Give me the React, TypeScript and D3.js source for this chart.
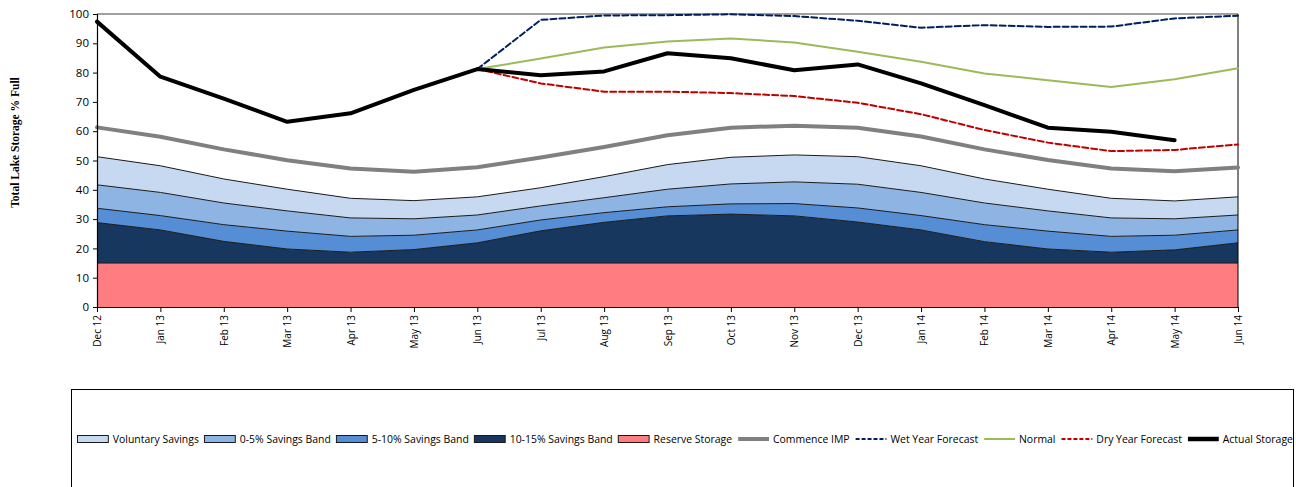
import React, { useEffect, useRef } from "react";
import * as d3 from "d3";

const months = ["Dec 12","Jan 13","Feb 13","Mar 13","Apr 13","May 13","Jun 13","Jul 13","Aug 13","Sep 13","Oct 13","Nov 13","Dec 13","Jan 14","Feb 14","Mar 14","Apr 14","May 14","Jun 14"];

// Upper levels (% full) of each storage band
const reserveLevel = [15,15,15,15,15,15,15,15,15,15,15,15,15,15,15,15,15,15,15];
const band10to15Level = [28.8,26.3,22.4,19.8,18.7,19.6,21.9,26.0,28.9,31.1,31.7,31.1,29.0,26.3,22.3,19.8,18.7,19.5,21.9];
const band5to10Level = [33.7,31.2,28.1,25.9,24.1,24.5,26.3,29.7,32.2,34.2,35.2,35.3,33.8,31.2,28.1,25.9,24.1,24.5,26.3];
const band0to5Level = [41.7,39.1,35.5,32.8,30.4,30.1,31.4,34.5,37.3,40.2,42.0,42.7,41.9,39.1,35.5,32.8,30.4,30.1,31.4];
const voluntaryLevel = [51.3,48.2,43.7,40.2,37.1,36.3,37.6,40.7,44.5,48.6,51.1,51.9,51.3,48.2,43.7,40.2,37.1,36.2,37.6];
const commenceIMP = [61.3,58.1,53.8,50.1,47.3,46.2,47.7,51.0,54.6,58.6,61.2,61.9,61.2,58.2,53.8,50.2,47.3,46.3,47.6];

const wetYear: (number | null)[] = [null,null,null,null,null,null,81.2,98.0,99.5,99.6,99.9,99.3,97.7,95.3,96.2,95.6,95.7,98.5,99.4];
const normalYear: (number | null)[] = [null,null,null,null,null,null,81.2,84.8,88.6,90.6,91.6,90.3,87.1,83.7,79.7,77.4,75.1,77.7,81.5];
const dryYear: (number | null)[] = [null,null,null,null,null,null,81.2,76.3,73.5,73.5,73.0,72.0,69.7,65.8,60.4,56.1,53.2,53.6,55.5];
const actualStorage: (number | null)[] = [97.4,78.6,71.1,63.2,66.1,74.1,81.2,79.1,80.4,86.6,84.9,80.8,82.8,76.3,68.9,61.2,59.8,56.9,null];

const yTicks = [0,10,20,30,40,50,60,70,80,90,100];

const legendItems = [
  { label: "Voluntary Savings", kind: "box", color: "#C6D9F1" },
  { label: "0-5% Savings Band", kind: "box", color: "#8EB4E3" },
  { label: "5-10% Savings Band", kind: "box", color: "#558ED5" },
  { label: "10-15% Savings Band", kind: "box", color: "#17375E" },
  { label: "Reserve Storage", kind: "box", color: "#FF7C80" },
  { label: "Commence IMP", kind: "line", color: "#808080", width: 4, dash: "" },
  { label: "Wet Year Forecast", kind: "line", color: "#002060", width: 2, dash: "4,2" },
  { label: "Normal", kind: "line", color: "#9BBB59", width: 2, dash: "" },
  { label: "Dry Year Forecast", kind: "line", color: "#C00000", width: 2, dash: "4,2" },
  { label: "Actual Storage", kind: "line", color: "#000000", width: 4.5, dash: "" },
];

export default function App() {
  const ref = useRef<SVGSVGElement>(null);

  useEffect(() => {
    const svg = d3.select(ref.current);
    svg.selectAll("*").remove();
    const W = 1296, H = 487;
    const left = 97, right = 1238, top = 14, bottom = 307;
    const font = "'Open Sans', 'Noto Sans', sans-serif";

    const x = d3.scalePoint<string>().domain(months).range([left, right]);
    const y = d3.scaleLinear().domain([0, 100]).range([bottom, top]);

    svg.append("rect").attr("width", W).attr("height", H).attr("fill", "#fff");

    const bands = [
      { lo: reserveLevel.map(() => 0), hi: reserveLevel, color: "#FF7C80" },
      { lo: reserveLevel, hi: band10to15Level, color: "#17375E" },
      { lo: band10to15Level, hi: band5to10Level, color: "#558ED5" },
      { lo: band5to10Level, hi: band0to5Level, color: "#8EB4E3" },
      { lo: band0to5Level, hi: voluntaryLevel, color: "#C6D9F1" },
    ];

    const area = d3.area<number>()
      .x((_, i) => x(months[i])!)
      .y0((_, i) => y(0))
      .y1((d) => y(d));

    bands.forEach((b) => {
      const ar = d3.area<number>()
        .x((_, i) => x(months[i])!)
        .y0((_, i) => y(b.lo[i]))
        .y1((d) => y(d));
      svg.append("path").datum(b.hi).attr("d", ar).attr("fill", b.color).attr("stroke", "none");
    });
    bands.forEach((b) => {
      const ln = d3.line<number>().x((_, i) => x(months[i])!).y((d) => y(d));
      svg.append("path").datum(b.hi).attr("d", ln).attr("fill", "none").attr("stroke", "#1a1a1a").attr("stroke-width", 1);
    });
    void area;

    // plot frame
    svg.append("line").attr("x1", left).attr("x2", right).attr("y1", top).attr("y2", top).attr("stroke", "#808080").attr("stroke-width", 1.5);
    svg.append("line").attr("x1", right).attr("x2", right).attr("y1", top).attr("y2", bottom).attr("stroke", "#000").attr("stroke-width", 1);

    const lineGen = d3.line<number | null>()
      .defined((d) => d !== null)
      .x((_, i) => x(months[i])!)
      .y((d) => y(d as number));

    const series = [
      { data: commenceIMP as (number | null)[], color: "#808080", width: 4, dash: "" },
      { data: wetYear, color: "#002060", width: 2, dash: "6,3" },
      { data: normalYear, color: "#9BBB59", width: 2, dash: "" },
      { data: dryYear, color: "#C00000", width: 2, dash: "6,3" },
      { data: actualStorage, color: "#000000", width: 4, dash: "" },
    ];
    series.forEach((s) => {
      svg.append("path").datum(s.data).attr("d", lineGen).attr("fill", "none")
        .attr("stroke", s.color).attr("stroke-width", s.width)
        .attr("stroke-dasharray", s.dash || null)
        .attr("stroke-linejoin", "round").attr("stroke-linecap", "round");
    });

    // Y axis
    const ya = svg.append("g").attr("transform", `translate(${left},0)`)
      .call(d3.axisLeft(y).tickValues(yTicks).tickSize(4).tickPadding(4));
    ya.select(".domain").attr("stroke", "#000").attr("stroke-width", 1.2);
    ya.selectAll(".tick line").attr("stroke", "#000");
    ya.selectAll(".tick text").attr("font-family", font).attr("font-size", 11.5).attr("fill", "#000");

    // X axis
    const xa = svg.append("g").attr("transform", `translate(0,${bottom})`)
      .call(d3.axisBottom(x).tickSize(5).tickSizeOuter(0));
    xa.select(".domain").attr("stroke", "#000").attr("stroke-width", 1.2);
    xa.selectAll(".tick line").attr("stroke", "#000");
    xa.selectAll(".tick text")
      .attr("font-family", font).attr("font-size", 10).attr("fill", "#000")
      .attr("transform", "rotate(-90)")
      .attr("text-anchor", "end")
      .attr("x", -8).attr("y", 0).attr("dy", "0.35em");

    // Y title
    svg.append("text")
      .attr("transform", `translate(19,142.5) rotate(-90)`)
      .attr("text-anchor", "middle")
      .attr("font-family", "'Liberation Serif', serif")
      .attr("font-weight", "bold").attr("font-size", 11.5)
      .text("Total Lake Storage % Full");

    // Legend box
    svg.append("rect").attr("x", 71.5).attr("y", 389.5).attr("width", 1222).attr("height", 120)
      .attr("fill", "#fff").attr("stroke", "#000").attr("stroke-width", 1);

    const lg = svg.append("g");
    let cx = 77;
    const ly = 440;
    const lfont = 10.5;
    legendItems.forEach((it) => {
      if (it.kind === "box") {
        lg.append("rect").attr("x", cx + 0.5).attr("y", ly - 4.5).attr("width", 31).attr("height", 7)
          .attr("fill", it.color).attr("stroke", "#1a1a1a").attr("stroke-width", 1);
      } else {
        lg.append("line").attr("x1", cx + 1).attr("x2", cx + 32).attr("y1", ly - 1).attr("y2", ly - 1)
          .attr("stroke", it.color).attr("stroke-width", (it as any).width)
          .attr("stroke-dasharray", (it as any).dash || null);
      }
      const t = lg.append("text").attr("x", cx + 36).attr("y", ly + 3)
        .attr("font-family", font).attr("font-size", lfont).attr("fill", "#000").text(it.label);
      const w = (t.node() as SVGTextElement).getComputedTextLength();
      cx = cx + 36 + w + 5;
    });
    // scale legend to fit the box width
    const total = cx - 5 - 77;
    const target = 1293 - 77;
    if (total > 0) {
      const k = target / total;
      lg.attr("transform", `translate(${77 - 77 * k},${ly - ly * 1}) scale(${k},1)`);
    }
  }, []);

  return (
    <div style={{ position: "absolute", left: 0, top: 0 }}>
      <svg ref={ref} width={1296} height={487} style={{ display: "block" }} />
    </div>
  );
}
